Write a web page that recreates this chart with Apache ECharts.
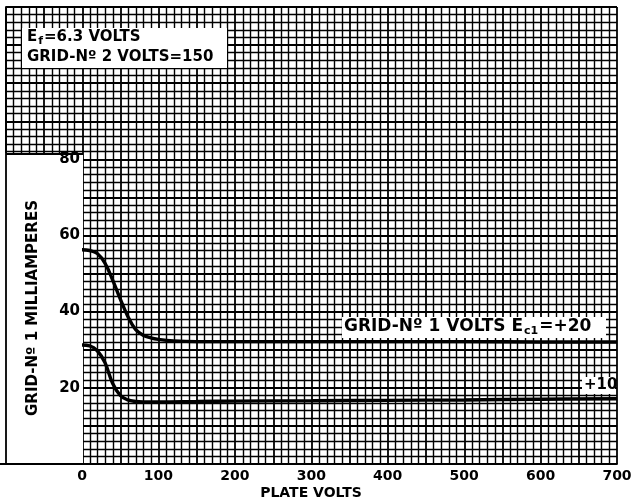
<!DOCTYPE html>
<html>
<head>
<meta charset="utf-8">
<script src="https://cdn.jsdelivr.net/npm/echarts@6/dist/echarts.min.js"></script>
<style>
html,body{margin:0;padding:0;background:#fff;}
#c{width:635px;height:502px;}
</style>
</head>
<body>
<div id="c"></div>
<script>
// ---- data ----
const xTicks = [0, 100, 200, 300, 400, 500, 600, 700];
const yTicks = [20, 40, 60, 80];
const plateVolts20 = [0, 10, 20, 30, 40, 50, 60, 70, 80, 90, 100, 120, 150, 200, 300, 400, 500, 600, 700];
const gridMa20 = [56.2, 56.0, 55.2, 52.7, 48.3, 43.3, 38.7, 35.3, 33.8, 33.1, 32.7, 32.3, 32.1, 32.1, 32.1, 32.1, 32.1, 32.0, 32.0];
const plateVolts10 = [0, 10, 20, 30, 40, 50, 60, 70, 80, 100, 150, 200, 300, 400, 500, 600, 700];
const gridMa10 = [31.2, 31.0, 29.7, 26.6, 21.2, 18.0, 16.8, 16.4, 16.3, 16.3, 16.4, 16.5, 16.6, 16.7, 16.8, 17.0, 17.1];

const FONT = 'DejaVu Sans';
const chart = echarts.init(document.getElementById('c'));

function pairs(xs, ys) { return xs.map((x, i) => [x, ys[i]]); }

const paperLine = { color: '#000', width: 1.4 };
const heavyLine = { color: '#000', width: 1.8 };
chart.setOption({
  animation: false,
  backgroundColor: '#fff',
  grid: [
    { left: 6, right: 18, top: 7, bottom: 38, show: false },
    { left: 82, right: 18, top: 159, bottom: 38, show: false }
  ],
  xAxis: [
    { gridIndex: 0, type: 'value', min: -100, max: 700, interval: 50, z: 0,
      axisLine: { show: true, onZero: false, lineStyle: heavyLine },
      axisTick: { show: false }, axisLabel: { show: false },
      splitLine: { show: true, lineStyle: heavyLine },
      minorTick: { show: false, splitNumber: 5 },
      minorSplitLine: { show: true, lineStyle: paperLine } },
    { gridIndex: 1, type: 'value', min: 0, max: 700, interval: 100, z: 10,
      axisLine: { show: false }, axisTick: { show: false }, splitLine: { show: false },
      axisLabel: { show: true, color: '#000', fontFamily: FONT, fontWeight: 'bold', fontSize: 14, margin: 5 } }
  ],
  yAxis: [
    { gridIndex: 0, type: 'value', min: 0, max: 120, interval: 10, z: 0,
      axisLine: { show: true, onZero: false, lineStyle: heavyLine },
      axisTick: { show: false }, axisLabel: { show: false },
      splitLine: { show: true, lineStyle: heavyLine },
      minorTick: { show: false, splitNumber: 5 },
      minorSplitLine: { show: true, lineStyle: paperLine } },
    { gridIndex: 1, type: 'value', min: 0, max: 80, interval: 20, z: 10,
      axisLine: { show: false }, axisTick: { show: false }, splitLine: { show: false },
      axisLabel: { show: true, showMinLabel: false, color: '#000', fontFamily: FONT, fontWeight: 'bold', fontSize: 15, margin: 2 } }
  ],
  series: [
    { type: 'line', xAxisIndex: 1, yAxisIndex: 1, data: pairs(plateVolts20, gridMa20), smooth: 0.4,
      showSymbol: false, z: 10, lineStyle: { color: '#000', width: 3.4 } },
    { type: 'line', xAxisIndex: 1, yAxisIndex: 1, data: pairs(plateVolts10, gridMa10), smooth: 0.4,
      showSymbol: false, z: 10, lineStyle: { color: '#000', width: 3.4 } }
  ],
  graphic: [
    { type: 'rect', z: 5, shape: { x: 0, y: 153, width: 83, height: 311 }, style: { fill: '#fff' } },
    { type: 'polyline', z: 6, shape: { points: [[83, 154], [6, 154], [6, 464]] }, style: { stroke: '#000', lineWidth: 1.8, fill: null } },
    { type: 'line', z: 6, shape: { x1: 0, y1: 464, x2: 84, y2: 464 }, style: { stroke: '#000', lineWidth: 1.8 } },
    { type: 'rect', z: 5, shape: { x: 22, y: 28, width: 205, height: 40 }, style: { fill: '#fff' } },
    { type: 'text', z: 6, left: 27, top: 30, style: { text: '{e|E}{s|f}{e|=6.3 VOLTS}', rich: {
        e: { fontFamily: FONT, fontWeight: 'bold', fontSize: 15, fill: '#000' },
        s: { fontFamily: FONT, fontWeight: 'bold', fontSize: 11, fill: '#000', padding: [7, 1, 0, 1] } } } },
    { type: 'text', z: 6, left: 27, top: 50, style: { text: 'GRID-Nº 2 VOLTS=150', fontFamily: FONT, fontWeight: 'bold', fontSize: 15, fill: '#000' } },
    { type: 'rect', z: 9, shape: { x: 342, y: 317, width: 264, height: 21 }, style: { fill: '#fff' } },
    { type: 'text', z: 11, left: 344, top: 318, style: { text: '{e|GRID-Nº 1 VOLTS E}{s|c1}{e|=+20}', rich: {
        e: { fontFamily: FONT, fontWeight: 'bold', fontSize: 17, fill: '#000' },
        s: { fontFamily: FONT, fontWeight: 'bold', fontSize: 11, fill: '#000', padding: [9, 1, 0, 1] } } } },
    { type: 'rect', z: 9, shape: { x: 582, y: 377, width: 33, height: 17 }, style: { fill: '#fff' } },
    { type: 'text', z: 12, left: 584, top: 378, style: { text: '+10', fontFamily: FONT, fontWeight: 'bold', fontSize: 15, fill: '#000' } },
    { type: 'text', z: 11, x: 311, y: 493, style: { text: 'PLATE VOLTS', fontFamily: FONT, fontWeight: 'bold', fontSize: 14, fill: '#000', align: 'center', verticalAlign: 'middle' } },
    { type: 'text', z: 11, x: 33, y: 308, rotation: Math.PI / 2,
      style: { text: 'GRID-Nº 1 MILLIAMPERES', fontFamily: FONT, fontWeight: 'bold', fontSize: 15, fill: '#000', align: 'center', verticalAlign: 'middle' } }
  ]
});
</script>
</body>
</html>
